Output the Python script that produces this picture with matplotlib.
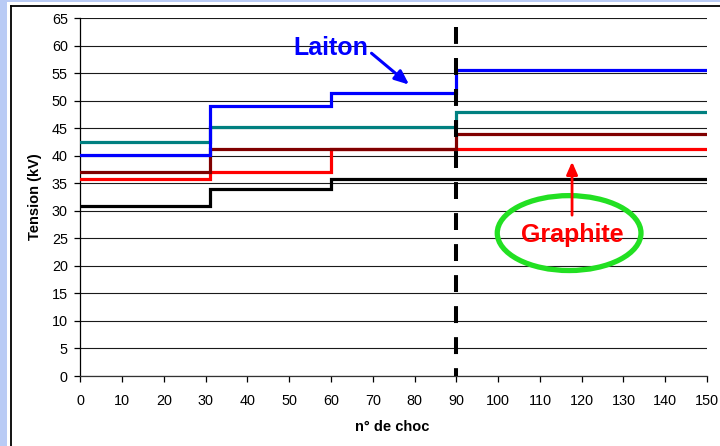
import matplotlib
matplotlib.use("Agg")
import matplotlib.pyplot as plt
from matplotlib.patches import Rectangle, Ellipse, FancyArrowPatch
from matplotlib.lines import Line2D

plt.rcParams['font.family'] = ['Liberation Sans', 'DejaVu Sans']

# Shock number where each test phase starts, and the end of the last phase
chocs = [0, 31, 60, 90, 150]

# Breakdown voltage (kV) held during each phase
laiton = [40.1, 49.0, 51.4, 55.5]
sarcelle = [42.4, 45.2, 45.2, 48.0]
bordeaux = [37.0, 41.3, 41.3, 43.9]
graphite = [35.8, 37.0, 41.3, 41.3]
noir = [30.9, 33.9, 35.8, 35.8]

series = [
    (noir, '#000000'),
    (graphite, '#ff0000'),
    (bordeaux, '#800000'),
    (sarcelle, '#008080'),
    (laiton, '#0000ff'),
]

x_ticks = list(range(0, 151, 10))
y_ticks = list(range(0, 66, 5))
separation = 90

W, H = 720, 446
fig = plt.figure(figsize=(W / 100, H / 100), dpi=100)
fig.patch.set_facecolor('#b9cbf5')

# white slide panel with its black frame
fig.add_artist(Rectangle((7 / W, 0), 1, 1 - 2 / H, transform=fig.transFigure,
                         facecolor='white', edgecolor='none', zorder=0))
fig.add_artist(Line2D([10.5 / W, 10.5 / W], [0, 1 - 5.5 / H], transform=fig.transFigure,
                      color='black', lw=1.3))
fig.add_artist(Line2D([10.5 / W, 1], [1 - 5.5 / H, 1 - 5.5 / H], transform=fig.transFigure,
                      color='black', lw=1.3))

ax = fig.add_axes([80.3 / W, 1 - 376 / H, 626.7 / W, 358 / H])
ax.set_facecolor('white')
ax.set_xlim(0, 150)
ax.set_ylim(0, 65)

for v in y_ticks:
    ax.axhline(v, color='#1a1a1a', lw=0.8, zorder=1)

for vals, col in series:
    ax.step(chocs, vals + [vals[-1]], where='post', color=col, lw=2.3,
            zorder=3, solid_joinstyle='miter')

# dashed separator between the two series of shocks
ax.plot([separation, separation], [63.4, 0], color='black', lw=2.9,
        dashes=(4.2, 3.5), zorder=5, solid_capstyle='butt', dash_capstyle='butt')

for s in ['top', 'right']:
    ax.spines[s].set_visible(False)
ax.spines['left'].set_linewidth(0.9)
ax.spines['bottom'].set_linewidth(0.9)
ax.spines['bottom'].set_color('#333333')

ax.set_xticks(x_ticks)
ax.set_yticks(y_ticks)
ax.tick_params(axis='both', direction='out', length=4, width=0.9, labelsize=10.4,
               colors='black')
ax.tick_params(axis='x', pad=9)
ax.tick_params(axis='y', pad=5)

ax.set_xlabel('n° de choc', fontsize=10.5, fontweight='bold')
ax.set_ylabel('Tension (kV)', fontsize=10.5, fontweight='bold')
ax.xaxis.set_label_coords(0.497, -0.123)
ax.yaxis.set_label_coords(-0.061, 0.5)

# "Laiton" callout
ax.text(59.9, 59.6, 'Laiton', color='#0000ff', fontsize=18, fontweight='bold',
        ha='center', va='center', zorder=6)
ax.add_patch(FancyArrowPatch((69.7, 58.6), (78.7, 52.9),
                             arrowstyle='-|>,head_length=8.5,head_width=3.6',
                             color='#0000ff', lw=2.2, mutation_scale=1, zorder=6,
                             shrinkA=0, shrinkB=0))

# "Graphite" callout
ax.add_patch(Ellipse((117.0, 25.95), 34.4, 13.6, facecolor='none', edgecolor='#22e022',
                     lw=3.8, zorder=6))
ax.text(117.8, 25.6, 'Graphite', color='#ff0000', fontsize=18, fontweight='bold',
        ha='center', va='center', zorder=7)
ax.add_patch(FancyArrowPatch((117.7, 29.2), (117.7, 38.9),
                             arrowstyle='-|>,head_length=7.5,head_width=3.3',
                             color='#ff0000', lw=2.0, mutation_scale=1, zorder=6,
                             shrinkA=0, shrinkB=0))

fig.savefig('out.png', dpi=100)
